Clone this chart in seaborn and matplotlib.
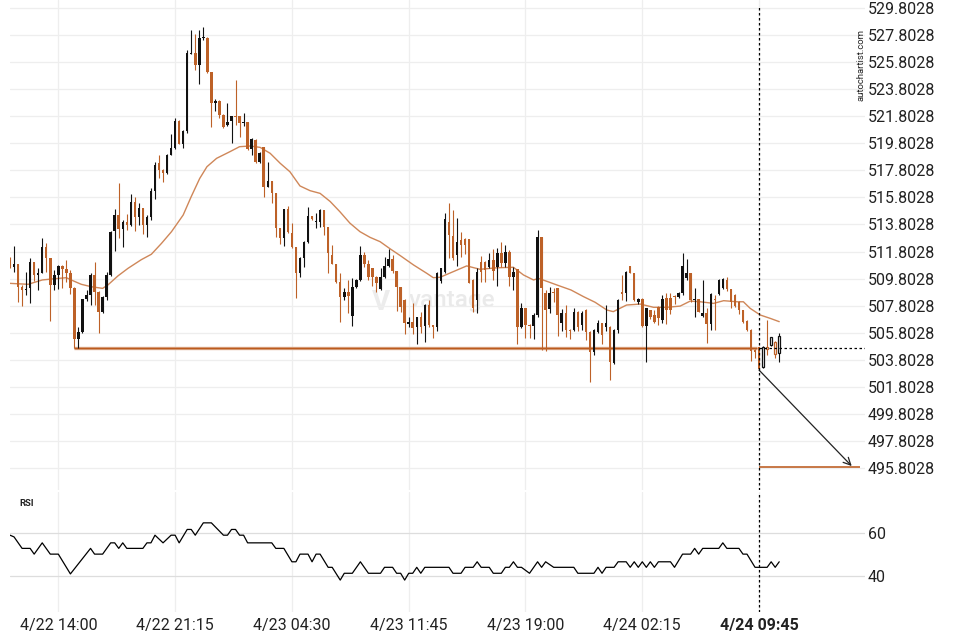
import numpy as np
import pandas as pd
import matplotlib
matplotlib.use("Agg")
import matplotlib.pyplot as plt
import seaborn as sns

# ---------------------------------------------------------------------------
# 15-minute candles, 4/22 11:00 -> 4/24 11:00
# ---------------------------------------------------------------------------
opens = [
    511.3, 510.63, 510.88, 509.2, 508.95, 509.08, 511.0, 510.07, 510.24, 512.11,
    511.3, 509.33, 510.07, 510.76, 510.5, 510.19, 509.08, 505.34, 505.88, 508.29,
    508.59, 510.07, 508.84, 507.36, 508.42, 510.07, 513.34, 514.5, 513.47, 514.01,
    513.76, 515.49, 514.33, 514.99, 513.76, 514.33, 516.3, 518.37, 517.83, 517.58,
    518.93, 519.43, 521.45, 519.77, 520.71, 526.42, 526.45, 525.55, 527.55, 527.6,
    525.09, 522.75, 522.95, 521.9, 521.15, 521.45, 521.85, 521.8, 521.3, 521.35,
    519.35, 520.04, 518.44, 519.5, 516.6, 517.04, 516.1, 513.52, 512.78, 514.92,
    513.2, 512.12, 510.24, 511.3, 512.53, 514.43, 513.98, 514.0, 514.87, 513.64,
    511.55, 510.88, 509.58, 508.47, 508.84, 507.04, 509.16, 509.7, 511.55, 510.88,
    510.56, 509.95, 509.01, 509.95, 510.73, 511.23, 510.35, 509.15, 508.22, 506.45,
    506.62, 506.25, 506.99, 506.33, 507.85, 506.38, 506.25, 509.6, 510.32, 514.0,
    512.95, 511.55, 512.66, 512.7, 512.73, 509.7, 508.22, 511.05, 511.05, 510.64,
    511.18, 510.64, 511.72, 510.93, 511.79, 509.95, 510.49, 506.2, 507.6, 506.4,
    506.33, 507.12, 512.85, 508.71, 507.53, 508.84, 509.08, 506.5, 507.24, 506.0,
    506.0, 507.36, 506.37, 507.48, 505.88, 504.4, 505.88, 506.49, 506.2, 506.25,
    503.59, 506.0, 508.83, 508.76, 510.73, 510.24, 508.1, 508.29, 506.3, 507.48,
    507.11, 507.73, 506.74, 508.34, 508.34, 508.46, 508.46, 508.71, 509.82, 510.19,
    508.2, 508.27, 507.03, 507.24, 506.44, 508.3, 508.66, 509.1, 509.7, 509.0,
    508.6, 508.1, 507.48, 506.7, 506.0, 504.52, 504.72, 503.24, 504.77, 504.9,
    505.14, 504.28,
]
highs = [
    511.4, 512.24, 510.9, 509.3, 510.3, 511.3, 511.0, 510.56, 512.78, 512.4,
    511.3, 510.44, 510.8, 510.8, 511.2, 510.44, 509.2, 506.25, 508.3, 508.96,
    510.19, 511.05, 508.9, 508.5, 510.27, 513.3, 514.92, 516.84, 514.1, 514.55,
    516.03, 515.8, 515.36, 515.0, 514.5, 516.47, 518.44, 518.93, 517.9, 519.0,
    520.46, 521.69, 521.5, 520.8, 526.69, 528.17, 527.85, 528.2, 528.4, 527.65,
    525.1, 523.05, 523.0, 521.95, 522.75, 521.85, 524.48, 521.85, 522.01, 521.4,
    520.17, 520.1, 519.18, 519.55, 518.44, 517.05, 516.1, 513.55, 514.95, 515.17,
    513.94, 512.15, 511.42, 512.58, 515.07, 514.45, 514.67, 514.92, 514.9, 513.65,
    512.29, 510.9, 510.24, 509.08, 509.7, 509.82, 509.75, 512.21, 511.79, 511.18,
    510.6, 510.0, 510.56, 511.42, 511.97, 511.55, 510.4, 509.2, 508.3, 506.99,
    508.03, 507.0, 507.36, 507.9, 508.22, 506.4, 510.32, 510.6, 514.63, 515.4,
    514.9, 514.3, 513.27, 512.8, 512.75, 509.75, 510.56, 511.47, 511.1, 511.67,
    511.99, 512.04, 512.53, 512.29, 511.92, 510.64, 510.5, 507.98, 507.62, 506.45,
    507.24, 513.4, 512.9, 508.96, 509.16, 509.08, 509.1, 507.53, 507.85, 506.05,
    507.6, 507.4, 507.4, 507.55, 505.9, 506.05, 506.74, 506.5, 507.85, 506.3,
    506.05, 508.27, 510.07, 510.35, 510.75, 510.25, 508.35, 508.35, 507.65, 507.5,
    507.48, 507.8, 508.59, 508.71, 508.71, 508.59, 508.8, 511.72, 511.22, 510.25,
    509.08, 508.3, 509.7, 507.6, 508.71, 508.6, 509.75, 509.85, 509.9, 509.05,
    508.65, 508.15, 507.5, 506.75, 506.05, 504.6, 504.75, 504.85, 506.74, 505.5,
    505.2, 505.76,
]
lows = [
    510.6, 510.31, 508.05, 507.8, 508.6, 507.97, 509.6, 508.96, 510.2, 510.3,
    506.67, 508.96, 509.03, 509.08, 509.57, 508.64, 504.65, 504.7, 505.8, 508.15,
    507.85, 507.85, 505.76, 507.23, 508.2, 510.0, 511.84, 512.78, 512.16, 513.39,
    513.7, 513.34, 513.76, 513.1, 512.9, 514.13, 515.68, 517.21, 516.96, 517.5,
    518.9, 519.4, 519.72, 519.43, 520.54, 526.4, 525.2, 524.18, 527.45, 525.0,
    520.98, 522.2, 521.7, 520.9, 521.1, 519.85, 521.15, 520.24, 521.1, 519.3,
    518.94, 518.32, 518.32, 515.86, 516.55, 515.36, 512.85, 512.36, 512.21, 513.15,
    512.1, 508.34, 509.95, 510.68, 512.46, 514.13, 513.52, 513.64, 513.02, 510.19,
    510.85, 509.45, 506.62, 508.22, 507.24, 506.3, 509.1, 509.65, 510.68, 509.7,
    509.26, 508.84, 508.96, 509.82, 510.68, 510.24, 507.4, 507.36, 505.7, 506.25,
    505.71, 504.97, 505.76, 505.1, 506.25, 505.39, 505.96, 509.5, 510.2, 511.3,
    511.2, 510.7, 511.42, 511.6, 509.45, 507.36, 507.29, 509.58, 509.58, 510.56,
    509.7, 509.26, 510.69, 510.69, 509.26, 508.96, 504.97, 506.13, 505.39, 505.39,
    505.32, 506.99, 504.53, 504.48, 507.24, 508.1, 505.59, 505.96, 505.46, 505.32,
    505.9, 505.9, 506.0, 505.26, 502.18, 504.16, 505.8, 505.0, 505.9, 502.3,
    503.5, 505.76, 508.22, 508.17, 510.2, 508.17, 507.9, 506.25, 503.66, 506.85,
    506.5, 506.37, 506.5, 506.42, 507.2, 507.9, 508.4, 508.6, 509.7, 508.1,
    506.93, 507.3, 506.98, 505.07, 506.0, 506.0, 508.6, 509.0, 508.85, 507.6,
    507.7, 507.2, 506.55, 505.95, 503.74, 503.9, 503.04, 503.2, 504.15, 504.8,
    503.9, 503.66,
]
closes = [
    510.7, 510.88, 509.2, 508.96, 509.05, 511.0, 510.07, 510.24, 512.11, 511.3,
    509.33, 510.07, 510.76, 510.5, 510.19, 509.08, 505.34, 505.88, 508.29, 508.59,
    510.07, 508.84, 507.36, 508.42, 510.07, 513.27, 514.5, 513.47, 514.01, 513.76,
    515.49, 514.33, 514.99, 513.76, 514.33, 516.3, 518.2, 517.83, 517.58, 518.93,
    519.43, 521.45, 519.77, 520.71, 526.45, 526.5, 525.55, 527.56, 527.62, 525.09,
    522.75, 522.95, 521.9, 521.03, 521.4, 521.8, 521.77, 521.3, 521.35, 519.35,
    520.09, 518.44, 519.1, 516.6, 517.04, 516.1, 513.52, 512.78, 514.92, 513.27,
    512.16, 510.24, 511.3, 512.53, 514.43, 514.18, 514.05, 514.87, 513.64, 511.67,
    510.88, 509.58, 508.47, 508.84, 508.52, 509.16, 509.7, 511.55, 510.88, 509.95,
    509.95, 509.5, 509.9, 510.73, 511.23, 510.39, 509.15, 507.73, 506.5, 506.62,
    506.13, 506.94, 506.25, 507.85, 506.38, 506.25, 510.25, 510.56, 514.18, 513.0,
    511.3, 512.53, 512.29, 512.3, 509.5, 507.6, 510.32, 510.32, 510.44, 511.18,
    510.39, 511.72, 510.93, 511.79, 509.95, 510.32, 506.2, 507.6, 506.38, 506.33,
    507.12, 512.85, 509.1, 507.48, 508.72, 508.72, 507.12, 507.24, 506.0, 505.96,
    507.36, 506.25, 507.23, 505.88, 504.4, 506.0, 506.54, 505.63, 506.54, 503.66,
    506.0, 508.22, 508.66, 510.31, 510.24, 508.22, 508.29, 506.3, 507.6, 506.93,
    506.62, 506.86, 508.27, 507.48, 507.48, 508.41, 508.76, 510.73, 510.19, 508.22,
    508.25, 507.36, 507.24, 506.44, 508.66, 508.25, 509.7, 509.75, 509.0, 508.1,
    507.8, 507.48, 506.62, 506.0, 504.47, 504.4, 503.09, 504.77, 504.57, 505.46,
    504.23, 505.56,
]

# moving average (bar index, value)
ma_bar = [0, 4.5, 8, 10.3, 14, 15.2, 17.7, 20.2, 23, 24.3, 26.8, 29.3, 32.6, 35.1,
          37.6, 40.1, 43, 45, 47.1, 48.9, 51.3, 54.6, 57, 59.6, 62.1, 64.6, 67.1,
          69.5, 72, 74.5, 77, 79.5, 81.9, 84.4, 86.9, 89.4, 91.9, 94.4, 96.9, 100.2,
          103.5, 105.1, 106.8, 110.1, 113.4, 116.7, 120.9, 125, 127.5, 130, 131.2,
          133.5, 135.8, 139.3, 142.4, 145.3, 148.2, 149.8, 153.1, 156.5, 159.8,
          163.1, 166.4, 168.9, 171.4, 174.7, 177.2, 180.5, 182.1, 183.8, 186.3,
          188.8, 191]
ma_val = [509.45, 509.38, 509.7, 509.77, 509.87, 509.7, 509.38, 509.2, 509.08,
          509.33, 510.0, 510.56, 511.2, 511.6, 512.4, 513.27, 514.5, 515.86, 517.2,
          518.07, 518.69, 519.18, 519.55, 519.6, 519.5, 519.06, 518.32, 517.7,
          516.65, 516.3, 516.1, 515.5, 514.75, 513.9, 513.27, 512.85, 512.53, 512.0,
          511.5, 510.81, 510.19, 509.87, 509.9, 510.32, 510.74, 510.49, 510.6,
          510.64, 510.07, 509.7, 509.82, 509.58, 509.33, 508.96, 508.47, 508.05,
          507.48, 507.36, 507.85, 507.92, 507.68, 507.68, 507.77, 508.14, 508.09,
          507.97, 508.17, 508.09, 508.09, 507.6, 507.11, 506.86, 506.62]

# RSI turning points (bar index, value)
rsi_bar = [0, 1, 3, 5, 6, 8, 10, 12, 15, 20, 21, 23, 25, 26, 27, 28, 29, 33, 34, 35,
           36, 38, 40, 41, 42, 44, 45, 46, 48, 50, 53, 54, 55, 56, 57, 58, 59, 65,
           66, 68, 70, 71, 72, 74, 75, 76, 77, 79, 80, 82, 83, 85, 87, 89, 92, 93,
           95, 96, 97, 98, 99, 100, 101, 102, 103, 109, 110, 112, 113, 115, 116,
           117, 119, 120, 122, 123, 124, 125, 126, 127, 129, 131, 132, 133, 135,
           140, 141, 145, 146, 147, 148, 150, 151, 153, 154, 155, 156, 157, 158,
           159, 160, 161, 164, 165, 167, 169, 170, 171, 172, 176, 177, 178, 181,
           182, 183, 185, 188, 189, 190, 191]
rsi_val = [59.2, 58.4, 53, 53, 50.3, 55.6, 50.3, 50.3, 41, 53, 50.3, 50.3, 55.6,
           55.6, 53, 55.6, 53, 53, 55.6, 55.6, 59.2, 55.6, 59.2, 59.2, 55.6, 61.9,
           61.9, 59.2, 65, 65, 59.2, 59.2, 61.9, 61.9, 59.2, 59.2, 55.6, 55.6, 53,
           53, 46.7, 46.7, 50.3, 50.3, 46.7, 50.3, 50.3, 44.1, 44.1, 38.1, 41.3,
           41.3, 46.7, 41.3, 41.3, 44.1, 44.1, 41.3, 41.3, 38.1, 41.3, 41.3, 44.1,
           41.3, 44.1, 44.1, 41.3, 41.3, 44.1, 44.1, 46.7, 44.1, 44.1, 41.3, 41.3,
           44.1, 44.1, 46.7, 44.1, 44.1, 41.3, 46.7, 44.1, 46.7, 44.1, 44.1, 41.3,
           41.3, 44.1, 41.3, 44.1, 44.1, 46.7, 46.7, 44.1, 46.7, 44.1, 46.7, 44.1,
           46.7, 44.1, 46.7, 46.7, 44.1, 50.3, 50.3, 53, 50.3, 53, 53, 55.6, 53,
           53, 50.3, 50.3, 44.1, 44.1, 46.7, 44.1, 46.7]

price_ticks = [495.8028, 497.8028, 499.8028, 501.8028, 503.8028, 505.8028,
               507.8028, 509.8028, 511.8028, 513.8028, 515.8028, 517.8028,
               519.8028, 521.8028, 523.8028, 525.8028, 527.8028, 529.8028]
rsi_ticks = [40, 60]
time_tick_bars = [12, 41, 70, 99, 128, 157, 186]
time_tick_labels = ["4/22 14:00", "4/22 21:15", "4/23 04:30", "4/23 11:45",
                    "4/23 19:00", "4/24 02:15", "4/24 09:45"]

# pattern annotation
support_level = 504.66
support_start = 16
signal_bar = 186
target_level = 495.85
target_end_bar = 211
arrow_end_bar = 209

ORANGE = "#bd6127"
BLACK = "#111111"
MA_COL = "#cf8759"
GRID = "#eeeeee"

sns.set_theme(style="white")
plt.rcParams["font.family"] = ["Roboto", "DejaVu Sans"]

df = pd.DataFrame({"o": opens, "h": highs, "l": lows, "c": closes})
df["bar"] = np.arange(len(df))
df["col"] = np.where(df.c >= df.o, BLACK, ORANGE)
df["bottom"] = df[["o", "c"]].min(axis=1)
df["height"] = (df.c - df.o).abs().clip(lower=0.07)

fig = plt.figure(figsize=(9.6, 6.4), dpi=100)
ax = fig.add_axes([10 / 960, 1 - 490 / 640, 855 / 960, 490 / 640])
ax_rsi = fig.add_axes([10 / 960, 1 - 612 / 640, 855 / 960, 120 / 640])

for a in (ax, ax_rsi):
    for s in a.spines.values():
        s.set_visible(False)
    a.set_xlim(0, 212.3)
    a.set_xticks(time_tick_bars)
    a.grid(True, axis="x", color=GRID, lw=0.9)
    a.tick_params(length=0)
    a.yaxis.tick_right()
    a.set_axisbelow(True)

# --- price panel ---
ax.set_ylim(494.18, 530.39)
ax.set_yticks(price_ticks)
ax.set_yticklabels([f"{v:.4f}" for v in price_ticks], fontsize=11.5, color="#222222")
ax.tick_params(axis="y", pad=2)
ax.grid(True, axis="y", color=GRID, lw=0.9)
ax.set_xticklabels([])

# watermark
ax.text(92.0, 508.0, "V", fontsize=20, color="#ececec", fontweight="bold",
        ha="center", va="center", zorder=0.5)
ax.text(109.8, 508.15, "vantage", fontsize=17.5, color="#eaeaea", fontweight="medium",
        ha="center", va="center", zorder=0.5)

# moving average
sns.lineplot(x=ma_bar, y=ma_val, color=MA_COL, lw=1.0, ax=ax, zorder=2)

# support line
ax.hlines(support_level, support_start, signal_bar - 0.4, color="#dcaa8a", lw=2.4, zorder=2)
ax.hlines(support_level, support_start, signal_bar - 0.4, color="#bb5a1e", lw=1.0, zorder=2)

# candles
filled = df[df.bar < signal_bar + 1]
hollow = df[df.bar >= signal_bar + 1]
ax.vlines(df.bar, df.l, df.h, colors=df.col, lw=0.8, zorder=3)
ax.bar(filled.bar, filled.height, bottom=filled.bottom, width=0.62,
       color=filled.col, lw=0, zorder=4)
ax.bar(hollow.bar, hollow.height, bottom=hollow.bottom, width=0.55,
       facecolor="white", edgecolor=hollow.col, lw=0.9, zorder=4)

# projection
ax.hlines(support_level, signal_bar, 212.3, color="black", lw=0.9,
          linestyles=(0, (2, 2)), zorder=5)
ax.hlines(target_level, signal_bar, target_end_bar, color=ORANGE, lw=1.2, zorder=5)
ax.annotate("", xy=(arrow_end_bar, target_level + 0.1),
            xytext=(signal_bar, lows[signal_bar]),
            arrowprops=dict(arrowstyle="->", color="#222222", lw=0.9,
                            mutation_scale=13, shrinkA=0, shrinkB=0), zorder=5)
ax.vlines(signal_bar, 494.18, 530.0, color="black", lw=0.9,
          linestyles=(0, (2, 2)), zorder=5)

# --- RSI panel ---
ax_rsi.set_ylim(23.1, 79.5)
ax_rsi.set_yticks(rsi_ticks)
ax_rsi.set_yticklabels([str(v) for v in rsi_ticks], fontsize=11.5, color="#222222")
ax_rsi.tick_params(axis="y", pad=2)
ax_rsi.grid(True, axis="y", color="#dddddd", lw=0.9)
sns.lineplot(x=rsi_bar, y=rsi_val, color="black", lw=0.9, ax=ax_rsi)
ax_rsi.vlines(signal_bar, 23.1, 79.5, color="black", lw=0.9,
              linestyles=(0, (2, 2)), zorder=5)
ax_rsi.set_xticklabels(time_tick_labels, fontsize=11.5, color="#222222")
ax_rsi.tick_params(axis="x", pad=4)
ax_rsi.get_xticklabels()[-1].set_fontweight("bold")
ax_rsi.set_xlabel("")
ax_rsi.set_ylabel("")
ax.set_xlabel("")
ax.set_ylabel("")
ax_rsi.text(0.011, 0.9, "RSI", transform=ax_rsi.transAxes, fontsize=6.8,
            fontweight="bold", color="#222222", va="center")

fig.text(861.5 / 960, 1 - 65 / 640, "autochartist.com", rotation=90,
         fontsize=6.8, color="#222222", ha="center", va="center")

fig.savefig("out.png", dpi=100)
